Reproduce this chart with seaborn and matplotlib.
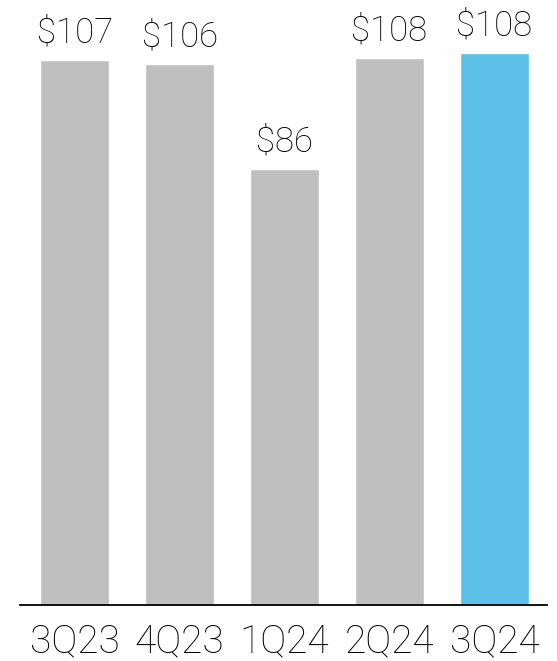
import matplotlib
matplotlib.use("Agg")
import matplotlib.pyplot as plt
import seaborn as sns
import pandas as pd

categories = ["3Q23", "4Q23", "1Q24", "2Q24", "3Q24"]
values = [107.0, 106.2, 85.6, 107.4, 108.3]
value_labels = ["$107", "$106", "$86", "$108", "$108"]
bar_colors = ["#BFBFBF", "#BFBFBF", "#BFBFBF", "#BFBFBF", "#5BBFE8"]

sns.set_theme(style="white")
plt.rcParams["font.family"] = ["Roboto", "DejaVu Sans"]
plt.rcParams["font.weight"] = "light"

df = pd.DataFrame({"quarter": categories, "value": values})

fig = plt.figure(figsize=(5.57, 6.61), dpi=100)
ax = fig.add_axes([20 / 557, 1 - 605 / 661, 527 / 557, 605 / 661])

sns.barplot(data=df, x="quarter", y="value", hue="quarter",
            palette=dict(zip(categories, bar_colors)), width=0.665,
            legend=False, ax=ax, saturation=1)

for i, (v, lab) in enumerate(zip(values, value_labels)):
    ax.annotate(lab, (i, v), xytext=(0, 13), textcoords="offset points",
                ha="center", va="baseline", fontsize=25, color="#000000",
                fontweight="light")

ax.set_xlim(-0.52, 4.5)
ax.set_ylim(0, 118.8)
ax.set_xlabel("")
ax.set_ylabel("")
ax.set_yticks([])
ax.tick_params(axis="x", length=0, pad=13, labelsize=28, colors="#000000")
for t in ax.get_xticklabels():
    t.set_fontweight("light")
for s in ["top", "left", "right"]:
    ax.spines[s].set_visible(False)
ax.spines["bottom"].set_color("black")
ax.spines["bottom"].set_linewidth(1.3)
ax.patch.set_alpha(0)

fig.savefig("out.png", dpi=100)
